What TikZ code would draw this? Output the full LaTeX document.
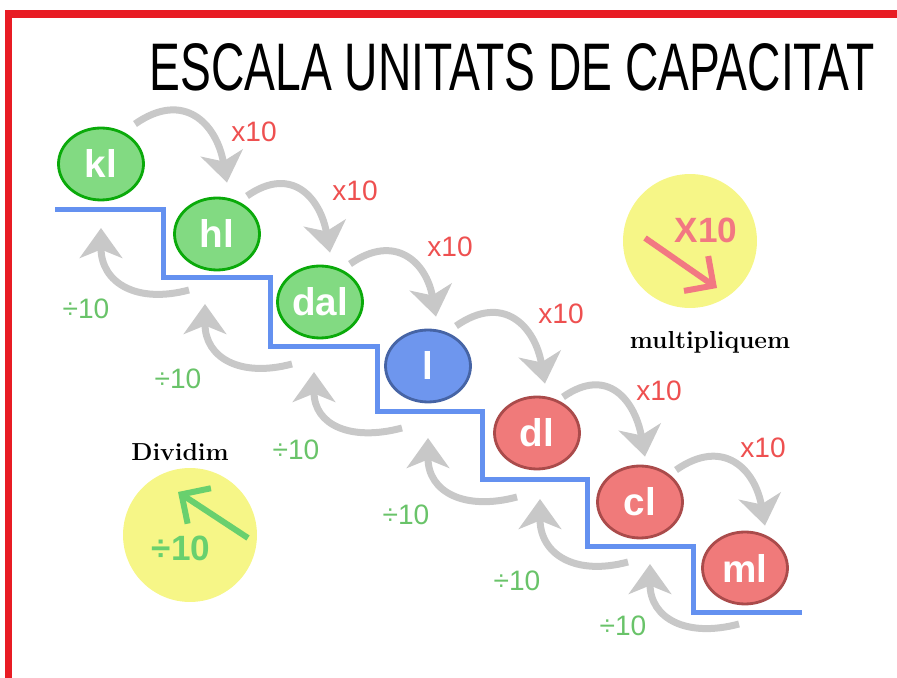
\documentclass[tikz,border=0pt]{standalone}
\usepackage{graphicx}
\usepackage{fontspec}
\newfontfamily\labelfont{Liberation Sans}
\usetikzlibrary{shapes, arrows.meta, positioning}

\definecolor{framered}{RGB}{232,28,36}
\definecolor{stairblue}{RGB}{100,145,240}
\definecolor{arrowgray}{RGB}{200,200,200}
\definecolor{timesred}{RGB}{238,80,80}
\definecolor{divgreen}{RGB}{105,195,105}
\definecolor{kilofill}{RGB}{130,218,130}
\definecolor{kiloline}{RGB}{10,170,10}
\definecolor{basefill}{RGB}{110,150,238}
\definecolor{baseline}{RGB}{70,100,165}
\definecolor{millifill}{RGB}{240,122,122}
\definecolor{milliline}{RGB}{170,75,75}
\definecolor{hintyellow}{RGB}{246,246,135}
\definecolor{hintred}{RGB}{242,120,130}
\definecolor{hintgreen}{RGB}{105,208,110}

\begin{document}
\begin{tikzpicture}[x=0.02cm, y=0.02cm,
    unit/.style={ellipse, minimum width=1.7cm, minimum height=1.44cm,
                 inner sep=0pt, line width=1.6pt, text=white,
                 font=\labelfont\bfseries\fontsize{22}{22}\selectfont},
    kilounit/.style={unit, draw=kiloline, fill=kilofill},
    baseunit/.style={unit, draw=baseline, fill=basefill},
    milliunit/.style={unit, draw=milliline, fill=millifill},
    mularrow/.style={draw=arrowgray, line width=0.14cm,
                     -{Stealth[length=0.6cm, width=0.85cm, inset=0.17cm]}},
    timeslabel/.style={text=timesred, inner sep=0pt,
                       font=\labelfont\fontsize{16}{16}\selectfont},
    divlabel/.style={text=divgreen, inner sep=0pt,
                     font=\labelfont\fontsize{16}{16}\selectfont},
    hintdisc/.style={circle, fill=hintyellow, minimum size=2.68cm, inner sep=0pt},
    hinttext/.style={inner sep=0pt, font=\labelfont\bfseries\fontsize{20}{20}\selectfont},
    hintarrow/.style={line width=0.12cm, -{Straight Barb[angle=90:0.6cm]}},
    wordlabel/.style={inner sep=0pt, font=\rmfamily\bfseries\fontsize{14}{14}\selectfont}]
    \useasboundingbox (0,0) rectangle (897,-678);

    % frame and title
    \draw[framered, line width=0.16cm] (8.5,-678) -- (8.5,-14) -- (897,-14);
    \node[inner sep=0pt] (title) at (512,-67)
        {\resizebox{14.5cm}{0.94cm}{\labelfont ESCALA UNITATS DE CAPACITAT}};

    % the stairs
    \draw[stairblue, line width=0.1cm] (55,-210) -| (163,-278) -| (270,-347)
        -| (377,-412) -| (482,-480) -| (587,-547) -| (693,-613) -- (802,-613);

    % units
    \node[kilounit] (kl) at (101,-164) {kl};
    \node[kilounit] (hl) at (217,-234) {hl};
    \node[kilounit] (dal) at (320,-302) {dal};
    \node[baseunit] (l) at (428,-366) {l};
    \node[milliunit] (dl) at (537,-433) {dl};
    \node[milliunit] (cl) at (640,-502) {cl};
    \node[milliunit] (ml) at (745,-568) {ml};

    % going down: x10
    \draw[mularrow] ([shift={(34,40)}]kl.center) to[out=35, in=100, looseness=1.4]
                    ([shift={(10,14)}]hl.north);
    \draw[mularrow] ([shift={(30,38)}]hl.center) to[out=35, in=100, looseness=1.4]
                    ([shift={(10,12)}]dal.north);
    \draw[mularrow] ([shift={(30,38)}]dal.center) to[out=35, in=100, looseness=1.4]
                    ([shift={(8,12)}]l.north);
    \draw[mularrow] ([shift={(28,40)}]l.center) to[out=35, in=100, looseness=1.4]
                    ([shift={(8,12)}]dl.north);
    \draw[mularrow] ([shift={(26,36)}]dl.center) to[out=35, in=100, looseness=1.4]
                    ([shift={(5,8)}]cl.north);
    \draw[mularrow] ([shift={(36,32)}]cl.center) to[out=35, in=100, looseness=1.4]
                    ([shift={(20,5)}]ml.north);
    \node[timeslabel] (times1) at (254,-132) {x10};
    \node[timeslabel] (times2) at (355,-191) {x10};
    \node[timeslabel] (times3) at (450,-247) {x10};
    \node[timeslabel] (times4) at (561,-314) {x10};
    \node[timeslabel] (times5) at (659,-391) {x10};
    \node[timeslabel] (times6) at (763,-448) {x10};

    % going up: divide by 10
    \draw[mularrow] ([shift={(-28,-56)}]hl.center) to[out=195, in=-90, looseness=1.3]
                    ([shift={(0,-64)}]kl.center);
    \draw[mularrow] ([shift={(-28,-62)}]dal.center) to[out=195, in=-90, looseness=1.3]
                    ([shift={(-12,-70)}]hl.center);
    \draw[mularrow] ([shift={(-26,-62)}]l.center) to[out=195, in=-90, looseness=1.3]
                    ([shift={(-6,-70)}]dal.center);
    \draw[mularrow] ([shift={(-20,-64)}]dl.center) to[out=195, in=-90, looseness=1.3]
                    ([shift={(0,-72)}]l.center);
    \draw[mularrow] ([shift={(-12,-60)}]cl.center) to[out=195, in=-90, looseness=1.3]
                    ([shift={(3,-66)}]dl.center);
    \draw[mularrow] ([shift={(-6,-56)}]ml.center) to[out=195, in=-90, looseness=1.3]
                    ([shift={(10,-62)}]cl.center);
    \node[divlabel] (div1) at (86,-309) {÷10};
    \node[divlabel] (div2) at (178,-379) {÷10};
    \node[divlabel] (div3) at (296,-450) {÷10};
    \node[divlabel] (div4) at (406,-515) {÷10};
    \node[divlabel] (div5) at (517,-581) {÷10};
    \node[divlabel] (div6) at (623,-626) {÷10};

    % reminders
    \node[hintdisc] (mulhint) at (690,-241) {};
    \node[hinttext, text=hintred] (multen) at (706,-230) {X10};
    \coordinate (mulfrom) at (645,-238);
    \coordinate (multo) at (717,-288);
    \draw[hintarrow, hintred] (mulfrom) -- (multo);
    \node[wordlabel] (mulword) at (710,-342) {multipliquem};

    \node[hintdisc] (divhint) at (190,-535) {};
    \node[hinttext, text=hintgreen] (divten) at (181,-548) {÷10};
    \coordinate (divfrom) at (248,-538);
    \coordinate (divto) at (178,-492);
    \draw[hintarrow, hintgreen] (divfrom) -- (divto);
    \node[wordlabel] (divword) at (180,-452) {Dividim};
\end{tikzpicture}
\end{document}
